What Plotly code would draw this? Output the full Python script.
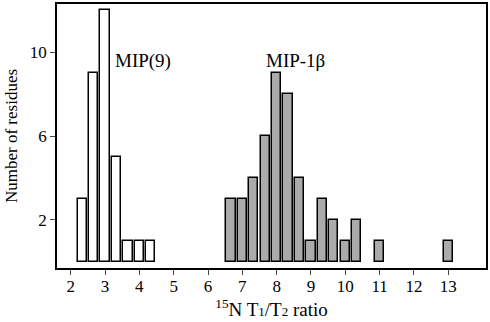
import plotly.graph_objects as go

mip9_x = [2.333, 2.667, 3.0, 3.333, 3.667, 4.0, 4.333]
mip9_y = [3, 9, 12, 5, 1, 1, 1]

mip1b_x = [6.667, 7.0, 7.333, 7.667, 8.0, 8.333, 8.667, 9.0, 9.333, 9.667, 10.0, 10.333, 11.0, 13.0]
mip1b_y = [3, 3, 4, 6, 9, 8, 4, 1, 3, 2, 1, 2, 1, 1]

x_ticks = list(range(2, 14))
y_ticks = [2, 6, 10]

font_family = "Liberation Serif"

fig = go.Figure()
fig.add_trace(go.Bar(x=mip9_x, y=mip9_y, width=0.27,
                     marker=dict(color="white", line=dict(color="black", width=1.5)),
                     name="MIP(9)"))
fig.add_trace(go.Bar(x=mip1b_x, y=mip1b_y, width=0.27,
                     marker=dict(color="#ababab", line=dict(color="black", width=1.5)),
                     name="MIP-1β"))

fig.add_annotation(x=3.23, y=9.6, text="MIP(9)", showarrow=False, xanchor="left", yanchor="middle",
                   font=dict(family=font_family, size=19, color="black"))
fig.add_annotation(x=8.56, y=9.6, text="MIP-1β", showarrow=False, xanchor="center", yanchor="middle",
                   font=dict(family=font_family, size=19, color="black"))

xtitle = ('<sup>15</sup>N T<span style="font-size:13px">1</span>/'
          'T<span style="font-size:13px">2</span> ratio')

fig.update_layout(
    width=490, height=322,
    margin=dict(l=57, r=3, t=2, b=54),
    paper_bgcolor="white", plot_bgcolor="white",
    showlegend=False,
    bargap=0,
    font=dict(family=font_family, color="black", size=17),
)
fig.update_xaxes(range=[1.6, 14.1], tickvals=x_ticks, ticks="outside", ticklen=5, tickwidth=1.2,
                 showline=True, linewidth=1.5, linecolor="black", mirror=True, showgrid=False,
                 zeroline=False, tickfont=dict(size=17), ticklabelstandoff=-3,
                 title=dict(text=xtitle, font=dict(size=19), standoff=6))
fig.update_yaxes(range=[-0.3, 12.3], tickvals=y_ticks, ticks="outside", ticklen=5, tickwidth=1.2,
                 showline=True, linewidth=1.5, linecolor="black", mirror=True, showgrid=False,
                 zeroline=False, tickfont=dict(size=17),
                 title=dict(text="Number of residues", font=dict(size=17), standoff=8))

fig.write_html("out.html")
